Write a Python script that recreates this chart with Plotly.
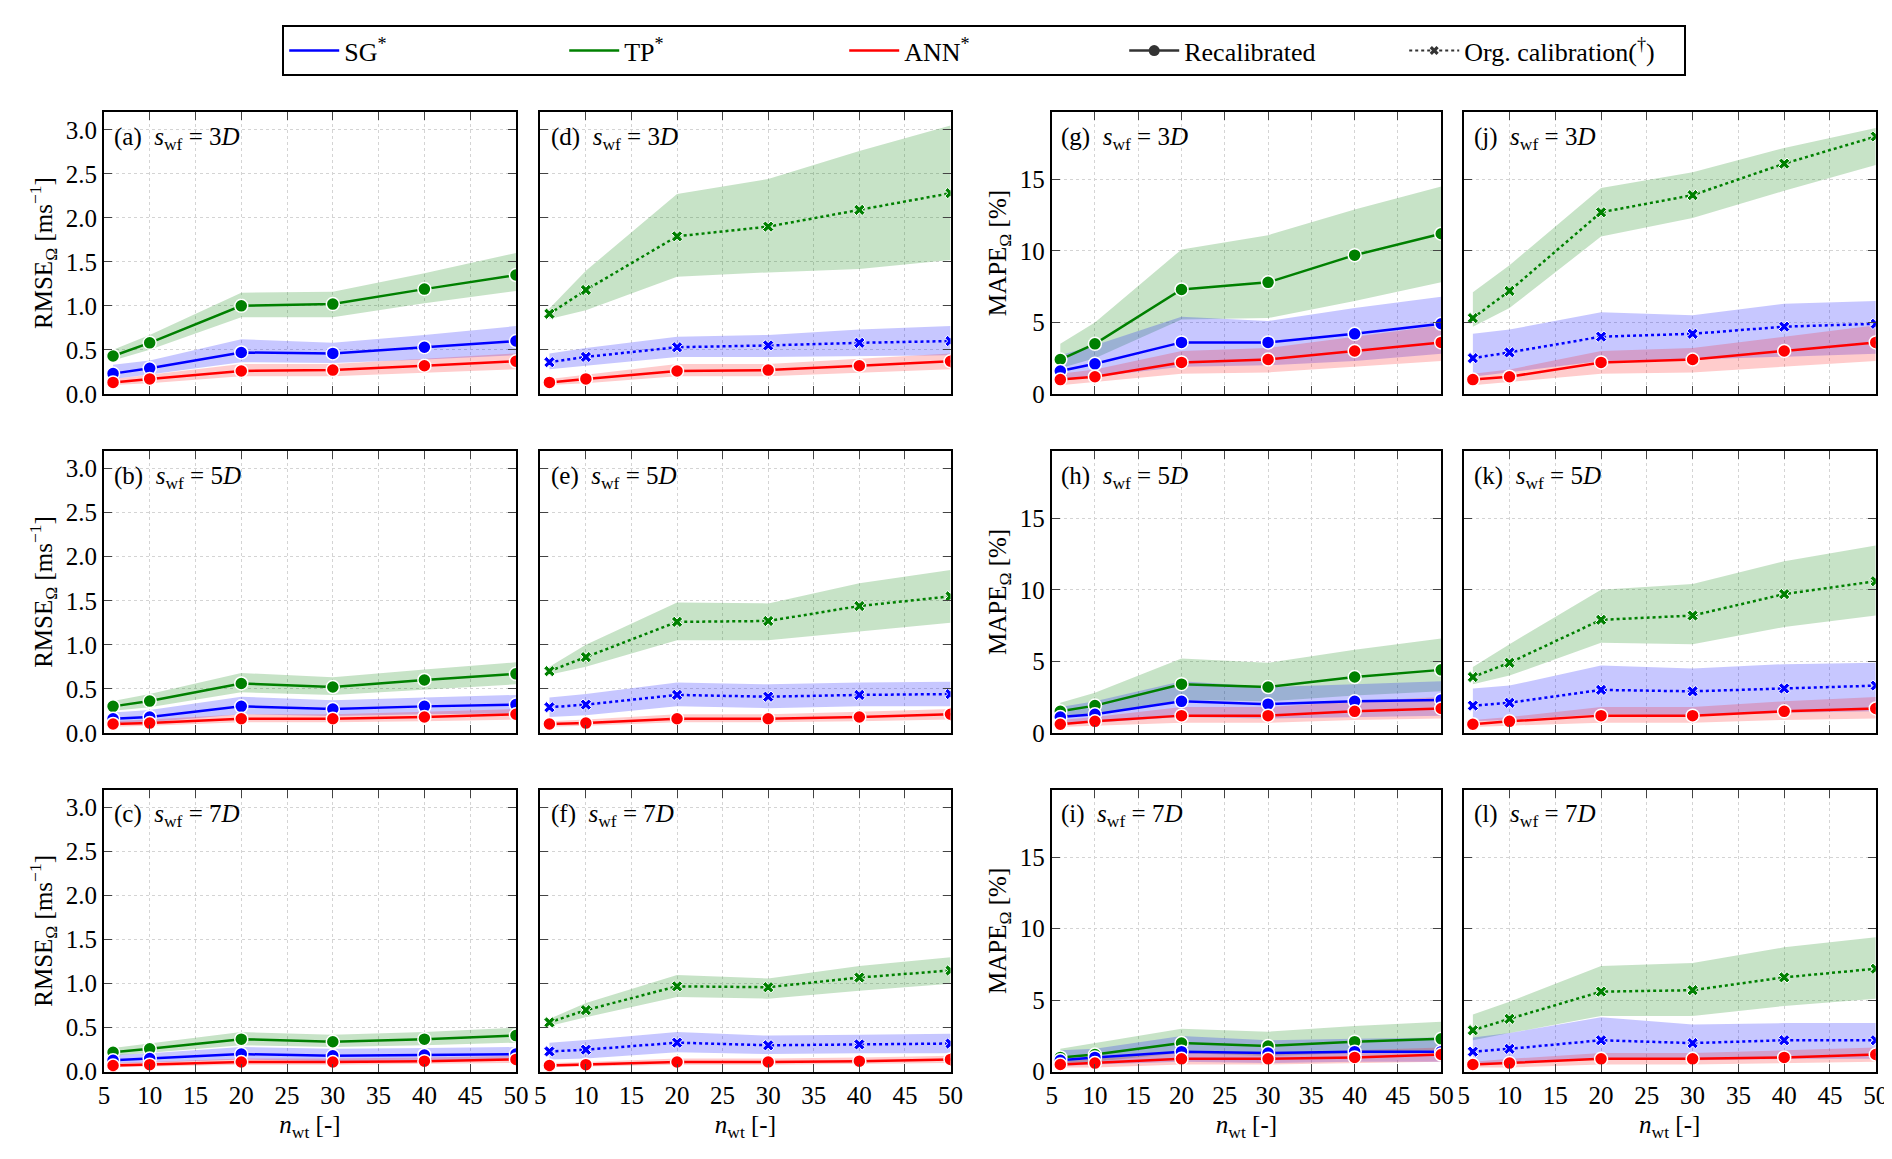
import plotly.graph_objects as go
from plotly.subplots import make_subplots

x_nwt = [6, 10, 20, 30, 40, 50]
x_ticks = [5, 10, 15, 20, 25, 30, 35, 40, 45, 50]

# ---- RMSE, recalibrated (a,b,c) ----
a_tp = [0.43, 0.58, 1.00, 1.02, 1.19, 1.35]; a_tp_lo = [0.38, 0.50, 0.87, 0.87, 1.03, 1.17]; a_tp_hi = [0.50, 0.67, 1.15, 1.16, 1.37, 1.60]
a_sg = [0.23, 0.29, 0.47, 0.46, 0.53, 0.60]; a_sg_lo = [0.17, 0.22, 0.36, 0.35, 0.39, 0.44]; a_sg_hi = [0.33, 0.38, 0.62, 0.58, 0.67, 0.77]
a_ann = [0.13, 0.17, 0.26, 0.27, 0.32, 0.37]; a_ann_lo = [0.10, 0.12, 0.20, 0.20, 0.24, 0.28]; a_ann_hi = [0.17, 0.22, 0.34, 0.34, 0.40, 0.46]
b_tp = [0.30, 0.36, 0.56, 0.52, 0.60, 0.67]; b_tp_lo = [0.25, 0.29, 0.46, 0.43, 0.49, 0.55]; b_tp_hi = [0.36, 0.44, 0.68, 0.63, 0.72, 0.80]
b_sg = [0.16, 0.18, 0.30, 0.27, 0.30, 0.32]; b_sg_lo = [0.11, 0.12, 0.21, 0.19, 0.21, 0.22]; b_sg_hi = [0.23, 0.26, 0.41, 0.37, 0.40, 0.43]
b_ann = [0.10, 0.11, 0.16, 0.16, 0.18, 0.21]; b_ann_lo = [0.07, 0.08, 0.12, 0.12, 0.13, 0.15]; b_ann_hi = [0.13, 0.15, 0.21, 0.21, 0.24, 0.27]
c_tp = [0.22, 0.26, 0.37, 0.34, 0.37, 0.41]; c_tp_lo = [0.18, 0.21, 0.30, 0.28, 0.30, 0.33]; c_tp_hi = [0.27, 0.32, 0.45, 0.42, 0.45, 0.50]
c_sg = [0.13, 0.15, 0.20, 0.18, 0.19, 0.20]; c_sg_lo = [0.09, 0.10, 0.14, 0.12, 0.13, 0.14]; c_sg_hi = [0.19, 0.21, 0.28, 0.26, 0.27, 0.28]
c_ann = [0.07, 0.08, 0.11, 0.11, 0.12, 0.14]; c_ann_lo = [0.05, 0.06, 0.08, 0.08, 0.09, 0.10]; c_ann_hi = [0.10, 0.11, 0.15, 0.15, 0.16, 0.18]
# ---- RMSE, original calibration (d,e,f) ----
d_tp = [0.91, 1.18, 1.79, 1.90, 2.09, 2.28]; d_tp_lo = [0.85, 0.95, 1.33, 1.38, 1.42, 1.52]; d_tp_hi = [0.97, 1.40, 2.27, 2.44, 2.76, 3.05]
d_sg = [0.36, 0.42, 0.53, 0.55, 0.58, 0.60]; d_sg_lo = [0.28, 0.32, 0.42, 0.42, 0.43, 0.44]; d_sg_hi = [0.46, 0.52, 0.65, 0.67, 0.73, 0.77]
e_tp = [0.70, 0.86, 1.26, 1.27, 1.44, 1.55]; e_tp_lo = [0.66, 0.75, 1.05, 1.05, 1.15, 1.25]; e_tp_hi = [0.75, 1.00, 1.48, 1.47, 1.70, 1.85]
e_sg = [0.29, 0.32, 0.43, 0.41, 0.43, 0.44]; e_sg_lo = [0.18, 0.20, 0.30, 0.28, 0.30, 0.30]; e_sg_hi = [0.40, 0.44, 0.57, 0.55, 0.57, 0.58]
f_tp = [0.56, 0.70, 0.97, 0.96, 1.07, 1.15]; f_tp_lo = [0.52, 0.62, 0.85, 0.83, 0.92, 1.00]; f_tp_hi = [0.60, 0.78, 1.10, 1.06, 1.20, 1.30]
f_sg = [0.23, 0.25, 0.33, 0.30, 0.31, 0.32]; f_sg_lo = [0.14, 0.15, 0.22, 0.20, 0.21, 0.21]; f_sg_hi = [0.33, 0.36, 0.45, 0.41, 0.42, 0.43]
# ---- MAPE, recalibrated (g,h,i) ----
g_tp = [2.4, 3.5, 7.3, 7.8, 9.7, 11.2]; g_tp_lo = [1.8, 2.5, 5.2, 5.3, 6.5, 7.8]; g_tp_hi = [3.5, 5.0, 10.1, 11.1, 12.9, 14.5]
g_sg = [1.6, 2.1, 3.6, 3.6, 4.2, 4.9]; g_sg_lo = [0.9, 1.2, 1.9, 2.0, 2.3, 2.8]; g_sg_hi = [2.7, 3.4, 5.4, 5.1, 6.0, 6.8]
g_ann = [1.0, 1.2, 2.2, 2.4, 3.0, 3.6]; g_ann_lo = [0.6, 0.8, 1.4, 1.5, 1.9, 2.3]; g_ann_hi = [1.4, 1.7, 3.0, 3.2, 4.0, 4.8]
h_tp = [1.5, 1.9, 3.4, 3.2, 3.9, 4.4]; h_tp_lo = [1.1, 1.3, 2.3, 2.2, 2.6, 2.9]; h_tp_hi = [2.1, 2.8, 5.2, 4.9, 5.8, 6.6]
h_sg = [1.1, 1.3, 2.2, 2.0, 2.2, 2.3]; h_sg_lo = [0.6, 0.7, 1.1, 1.0, 1.1, 1.2]; h_sg_hi = [1.8, 2.2, 3.6, 3.2, 3.4, 3.6]
h_ann = [0.6, 0.8, 1.2, 1.2, 1.5, 1.7]; h_ann_lo = [0.4, 0.5, 0.7, 0.7, 0.9, 1.0]; h_ann_hi = [0.9, 1.1, 1.8, 1.8, 2.2, 2.5]
i_tp = [1.0, 1.2, 2.0, 1.8, 2.1, 2.3]; i_tp_lo = [0.6, 0.7, 1.3, 1.1, 1.3, 1.5]; i_tp_hi = [1.6, 2.0, 3.0, 2.8, 3.2, 3.5]
i_sg = [0.8, 1.0, 1.4, 1.3, 1.4, 1.4]; i_sg_lo = [0.4, 0.5, 0.7, 0.6, 0.7, 0.7]; i_sg_hi = [1.5, 1.6, 2.5, 2.2, 2.3, 2.4]
i_ann = [0.5, 0.6, 0.9, 0.9, 1.0, 1.2]; i_ann_lo = [0.3, 0.3, 0.5, 0.5, 0.6, 0.7]; i_ann_hi = [0.7, 0.9, 1.3, 1.3, 1.5, 1.7]
# ---- MAPE, original calibration (j,k,l) ----
j_tp = [5.3, 7.2, 12.7, 13.9, 16.1, 18.0]; j_tp_lo = [4.7, 6.0, 11.0, 12.3, 14.2, 16.0]; j_tp_hi = [7.1, 9.0, 14.4, 15.5, 17.2, 18.6]
j_sg = [2.5, 2.9, 4.0, 4.2, 4.7, 4.9]; j_sg_lo = [1.2, 1.5, 2.3, 2.4, 2.6, 2.8]; j_sg_hi = [4.2, 4.5, 5.7, 5.5, 6.3, 6.5]
k_tp = [3.9, 4.9, 7.9, 8.2, 9.7, 10.6]; k_tp_lo = [3.4, 4.0, 6.3, 6.2, 7.4, 8.2]; k_tp_hi = [4.6, 6.2, 10.0, 10.4, 12.0, 13.1]
k_sg = [1.9, 2.1, 3.0, 2.9, 3.1, 3.3]; k_sg_lo = [0.8, 0.9, 1.3, 1.2, 1.4, 1.5]; k_sg_hi = [3.1, 3.3, 4.7, 4.5, 4.8, 4.9]
l_tp = [2.9, 3.7, 5.6, 5.7, 6.6, 7.2]; l_tp_lo = [2.2, 2.7, 3.9, 3.9, 4.6, 5.1]; l_tp_hi = [4.0, 4.9, 7.4, 7.6, 8.7, 9.4]
l_sg = [1.4, 1.6, 2.2, 2.0, 2.2, 2.2]; l_sg_lo = [0.5, 0.6, 0.9, 0.8, 0.9, 0.9]; l_sg_hi = [2.4, 2.7, 3.8, 3.3, 3.4, 3.4]

panel_labels = ["(a)", "(b)", "(c)", "(d)", "(e)", "(f)", "(g)", "(h)", "(i)", "(j)", "(k)", "(l)"]
spacing_labels = ["3", "5", "7"]
rmse_ticks = [0, 0.5, 1.0, 1.5, 2.0, 2.5, 3.0]
rmse_ticktext = ["0.0", "0.5", "1.0", "1.5", "2.0", "2.5", "3.0"]
mape_ticks = [0, 5, 10, 15]

BLUE, GREEN, RED = "#0000ff", "#008000", "#ff0000"
FILL = {BLUE: "rgba(0,0,255,0.22)", GREEN: "rgba(0,128,0,0.22)", RED: "rgba(255,0,0,0.2)"}
FONT = "Liberation Serif"
FS = 25

panels = [
    (1, 1, [(a_tp, a_tp_lo, a_tp_hi, GREEN, False), (a_sg, a_sg_lo, a_sg_hi, BLUE, False), (a_ann, a_ann_lo, a_ann_hi, RED, False)]),
    (2, 1, [(b_tp, b_tp_lo, b_tp_hi, GREEN, False), (b_sg, b_sg_lo, b_sg_hi, BLUE, False), (b_ann, b_ann_lo, b_ann_hi, RED, False)]),
    (3, 1, [(c_tp, c_tp_lo, c_tp_hi, GREEN, False), (c_sg, c_sg_lo, c_sg_hi, BLUE, False), (c_ann, c_ann_lo, c_ann_hi, RED, False)]),
    (1, 2, [(d_tp, d_tp_lo, d_tp_hi, GREEN, True), (d_sg, d_sg_lo, d_sg_hi, BLUE, True), (a_ann, a_ann_lo, a_ann_hi, RED, False)]),
    (2, 2, [(e_tp, e_tp_lo, e_tp_hi, GREEN, True), (e_sg, e_sg_lo, e_sg_hi, BLUE, True), (b_ann, b_ann_lo, b_ann_hi, RED, False)]),
    (3, 2, [(f_tp, f_tp_lo, f_tp_hi, GREEN, True), (f_sg, f_sg_lo, f_sg_hi, BLUE, True), (c_ann, c_ann_lo, c_ann_hi, RED, False)]),
    (1, 3, [(g_tp, g_tp_lo, g_tp_hi, GREEN, False), (g_sg, g_sg_lo, g_sg_hi, BLUE, False), (g_ann, g_ann_lo, g_ann_hi, RED, False)]),
    (2, 3, [(h_tp, h_tp_lo, h_tp_hi, GREEN, False), (h_sg, h_sg_lo, h_sg_hi, BLUE, False), (h_ann, h_ann_lo, h_ann_hi, RED, False)]),
    (3, 3, [(i_tp, i_tp_lo, i_tp_hi, GREEN, False), (i_sg, i_sg_lo, i_sg_hi, BLUE, False), (i_ann, i_ann_lo, i_ann_hi, RED, False)]),
    (1, 4, [(j_tp, j_tp_lo, j_tp_hi, GREEN, True), (j_sg, j_sg_lo, j_sg_hi, BLUE, True), (g_ann, g_ann_lo, g_ann_hi, RED, False)]),
    (2, 4, [(k_tp, k_tp_lo, k_tp_hi, GREEN, True), (k_sg, k_sg_lo, k_sg_hi, BLUE, True), (h_ann, h_ann_lo, h_ann_hi, RED, False)]),
    (3, 4, [(l_tp, l_tp_lo, l_tp_hi, GREEN, True), (l_sg, l_sg_lo, l_sg_hi, BLUE, True), (i_ann, i_ann_lo, i_ann_hi, RED, False)]),
]

fig = make_subplots(rows=3, cols=4)

for idx, (r, c, series) in enumerate(panels):
    for mean, lo, hi, col, org in series:
        fig.add_trace(go.Scatter(x=x_nwt + x_nwt[::-1], y=hi + lo[::-1], fill="toself",
                                 fillcolor=FILL[col], line=dict(width=0), mode="lines",
                                 hoverinfo="skip", showlegend=False), row=r, col=c)
    for mean, lo, hi, col, org in series:
        if org:
            mk = dict(symbol="x", size=10, color=col, line=dict(color="white", width=1))
            ln = dict(color=col, width=2.5, dash="dot")
        else:
            mk = dict(symbol="circle", size=13, color=col, line=dict(color="white", width=1.5))
            ln = dict(color=col, width=2.5)
        fig.add_trace(go.Scatter(x=x_nwt, y=mean, mode="lines+markers", line=ln, marker=mk,
                                 showlegend=False), row=r, col=c)

for name, col in [("SG<sup>*</sup>", BLUE), ("TP<sup>*</sup>", GREEN), ("ANN<sup>*</sup>", RED)]:
    fig.add_trace(go.Scatter(x=[None], y=[None], mode="lines", line=dict(color=col, width=2.5), name=name))
fig.add_trace(go.Scatter(x=[None], y=[None], mode="lines+markers", line=dict(color="#333333", width=2.5),
                         marker=dict(symbol="circle", size=11, color="#333333"), name="Recalibrated"))
fig.add_trace(go.Scatter(x=[None], y=[None], mode="lines+markers", line=dict(color="#333333", width=2, dash="dot"),
                         marker=dict(symbol="x", size=8, color="#333333"), name="Org. calibration(<sup>†</sup>)"))

col_dom = [(0.048, 0.268), (0.281, 0.500), (0.554, 0.762), (0.774, 0.994)]
row_dom = [(0.663, 0.909), (0.367, 0.613), (0.071, 0.317)]

for idx, (r, c, series) in enumerate(panels):
    n = (r - 1) * 4 + c
    xa = "xaxis" if n == 1 else f"xaxis{n}"
    ya = "yaxis" if n == 1 else f"yaxis{n}"
    rmse = c <= 2
    fig.layout[xa].update(domain=col_dom[c-1], range=[5, 50], tickvals=x_ticks,
                          showticklabels=(r == 3), ticks="inside", ticklen=8, mirror="ticks",
                          showline=True, linecolor="black", linewidth=2, showgrid=True,
                          gridcolor="#d4d4d4", griddash="dot", zeroline=False,
                          tickfont=dict(family=FONT, size=FS, color="black"),
                          title=dict(text="<i>n</i><sub>wt</sub> [-]" if r == 3 else "",
                                     font=dict(family=FONT, size=FS, color="black"), standoff=8))
    fig.layout[ya].update(domain=row_dom[r-1], range=[0, 3.2] if rmse else [0, 19.7],
                          tickvals=rmse_ticks if rmse else mape_ticks,
                          ticktext=rmse_ticktext if rmse else [str(v) for v in mape_ticks],
                          showticklabels=(c in (1, 3)), ticks="inside", ticklen=8, mirror="ticks",
                          showline=True, linecolor="black", linewidth=2, showgrid=True,
                          gridcolor="#d4d4d4", griddash="dot", zeroline=False,
                          tickfont=dict(family=FONT, size=FS, color="black"),
                          title=dict(text=("RMSE<sub>Ω</sub> [ms<sup>−1</sup>]" if rmse else "MAPE<sub>Ω</sub> [%]") if c in (1, 3) else "",
                                     font=dict(family=FONT, size=FS, color="black"), standoff=6))
    xref = "x domain" if n == 1 else f"x{n} domain"
    yref = "y domain" if n == 1 else f"y{n} domain"
    fig.add_annotation(text=f"{panel_labels[idx]}&nbsp;&nbsp;<i>s</i><sub>wf</sub> = {spacing_labels[r-1]}<i>D</i>",
                       xref=xref, yref=yref, x=0.02, y=0.97, xanchor="left", yanchor="top",
                       showarrow=False, font=dict(family=FONT, size=FS, color="black"))

fig.update_layout(
    width=1892, height=1159, plot_bgcolor="white", paper_bgcolor="white",
    margin=dict(l=0, r=0, t=0, b=0),
    font=dict(family=FONT, size=FS, color="black"),
    legend=dict(orientation="h", x=0.518, y=0.985, xanchor="center", yanchor="top",
                bordercolor="black", borderwidth=2, font=dict(family=FONT, size=26),
                itemwidth=50, entrywidth=215, entrywidthmode="pixels"),
)
fig.write_html("out.html")
